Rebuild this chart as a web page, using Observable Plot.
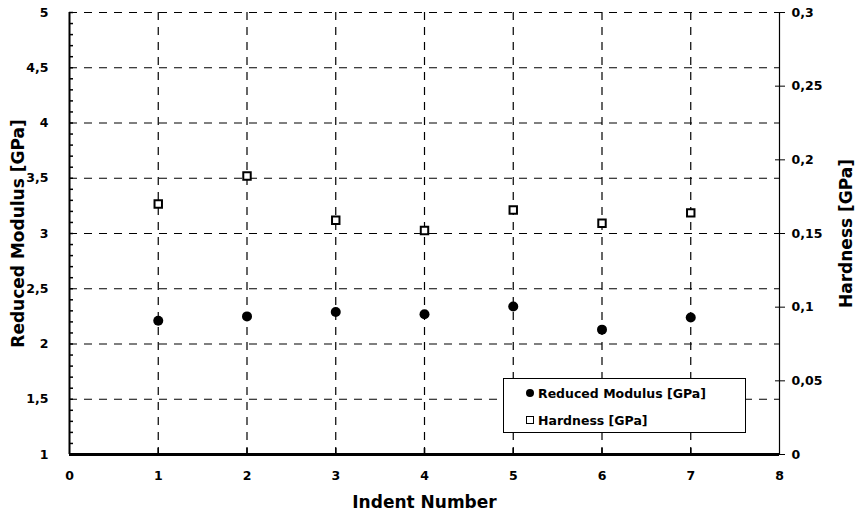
<!DOCTYPE html>
<html>
<head>
<meta charset="utf-8">
<script src="https://cdn.jsdelivr.net/npm/d3@7"></script>
<script src="https://cdn.jsdelivr.net/npm/@observablehq/plot@0.6"></script>
<style>
  html, body { margin: 0; padding: 0; background: #fff; }
  #wrap { position: relative; width: 859px; height: 520px; font-family: "DejaVu Sans", sans-serif; }
  #legend { position: absolute; left: 503px; top: 378px; width: 243px; height: 55px; border: 1.5px solid #000; background: #fff; box-sizing: border-box; font-size: 12.5px; font-weight: bold; }
  .row { position: absolute; left: 22px; height: 16px; display: flex; align-items: center; white-space: nowrap; }
  .sym { display: inline-block; margin-right: 4px; }
  .circ { width: 8px; height: 8px; border-radius: 50%; background: #000; }
  .sq { width: 6px; height: 6px; border: 1.5px solid #000; background: #fff; }
</style>
</head>
<body>
<div id="wrap">
  <div id="chart"></div>
  <div id="legend">
    <div class="row" style="top:6px"><span class="sym circ"></span>Reduced Modulus [GPa]</div>
    <div class="row" style="top:33px"><span class="sym sq"></span>Hardness [GPa]</div>
  </div>
</div>
<script>
// Data
const indents = [1, 2, 3, 4, 5, 6, 7];
const reducedModulus = [2.21, 2.25, 2.29, 2.27, 2.34, 2.13, 2.24];
const hardness = [0.170, 0.189, 0.159, 0.152, 0.166, 0.157, 0.164];

const leftTicks = [1, 1.5, 2, 2.5, 3, 3.5, 4, 4.5, 5];
const leftTickLabels = ["1", "1,5", "2", "2,5", "3", "3,5", "4", "4,5", "5"];
const rightTicks = [0, 0.05, 0.1, 0.15, 0.2, 0.25, 0.3];
const rightTickLabels = ["0", "0,05", "0,1", "0,15", "0,2", "0,25", "0,3"];
const xTicks = [0, 1, 2, 3, 4, 5, 6, 7, 8];

// Hardness (0–0.3) maps onto the left scale (1–5)
const hToY = h => 1 + h / 0.3 * 4;

const modRows = indents.map((x, i) => ({x, y: reducedModulus[i]}));
const hardRows = indents.map((x, i) => ({x, y: hToY(hardness[i])}));
const minorTicks = d3.range(10, 51).map(d => d / 10);
const rightTickPos = rightTicks.map(hToY);

const chart = Plot.plot({
  width: 859,
  height: 520,
  marginLeft: 69,
  marginRight: 80,
  marginTop: 12,
  marginBottom: 66,
  x: {domain: [0, 8]},
  y: {domain: [1, 5]},
  style: {fontFamily: "'DejaVu Sans', sans-serif", fontWeight: "bold", fontSize: "12.5px", color: "#000", background: "#fff"},
  marks: [
    // grid
    Plot.gridY(leftTicks.filter(d => d > 1), {stroke: "#000", strokeOpacity: 1, strokeWidth: 1.2, strokeDasharray: "8,7"}),
    Plot.gridX(indents, {stroke: "#000", strokeOpacity: 1, strokeWidth: 1.2, strokeDasharray: "8,7"}),
    // left axis: labels + inward minor ticks
    Plot.axisY(leftTicks, {anchor: "left", tickSize: 0, tickPadding: 21, tickFormat: (d, i) => leftTickLabels[i], label: null}),
    Plot.axisY(minorTicks, {anchor: "left", tickSize: -4, strokeWidth: 1.5, text: null, label: null}),
    // right axis: cross ticks
    Plot.axisY(rightTickPos, {anchor: "right", tickSize: 5, tickPadding: 7, tickFormat: (d, i) => rightTickLabels[i], label: null}),
    Plot.axisY(rightTickPos, {anchor: "right", tickSize: -5, text: null, label: null}),
    // bottom axis
    Plot.axisX(xTicks, {anchor: "bottom", tickSize: 0, tickPadding: 17, tickFormat: d => String(d), label: null}),
    Plot.axisX(indents, {anchor: "bottom", tickSize: -6, strokeWidth: 1.5, text: null, label: null}),
    Plot.ruleX([0], {strokeWidth: 2}),
    Plot.ruleX([8], {strokeWidth: 1.2}),
    Plot.ruleY([1], {strokeWidth: 3}),
    // axis titles
    Plot.text(["Reduced Modulus [GPa]"], {frameAnchor: "left", textAnchor: "middle", rotate: -90, dx: -51, fontSize: 17, fontWeight: "bold"}),
    Plot.text(["Hardness [GPa]"], {frameAnchor: "right", textAnchor: "middle", rotate: -90, dx: 67, fontSize: 17, fontWeight: "bold"}),
    Plot.text(["Indent Number"], {frameAnchor: "bottom", dy: 53, fontSize: 17, fontWeight: "bold"}),
    // data
    Plot.dot(modRows, {x: "x", y: "y", r: 5, fill: "#000", stroke: "none"}),
    Plot.dot(hardRows, {x: "x", y: "y", symbol: "square", r: 4.2, fill: "#fff", stroke: "#000", strokeWidth: 2})
  ]
});
document.getElementById("chart").appendChild(chart);
</script>
</body>
</html>
